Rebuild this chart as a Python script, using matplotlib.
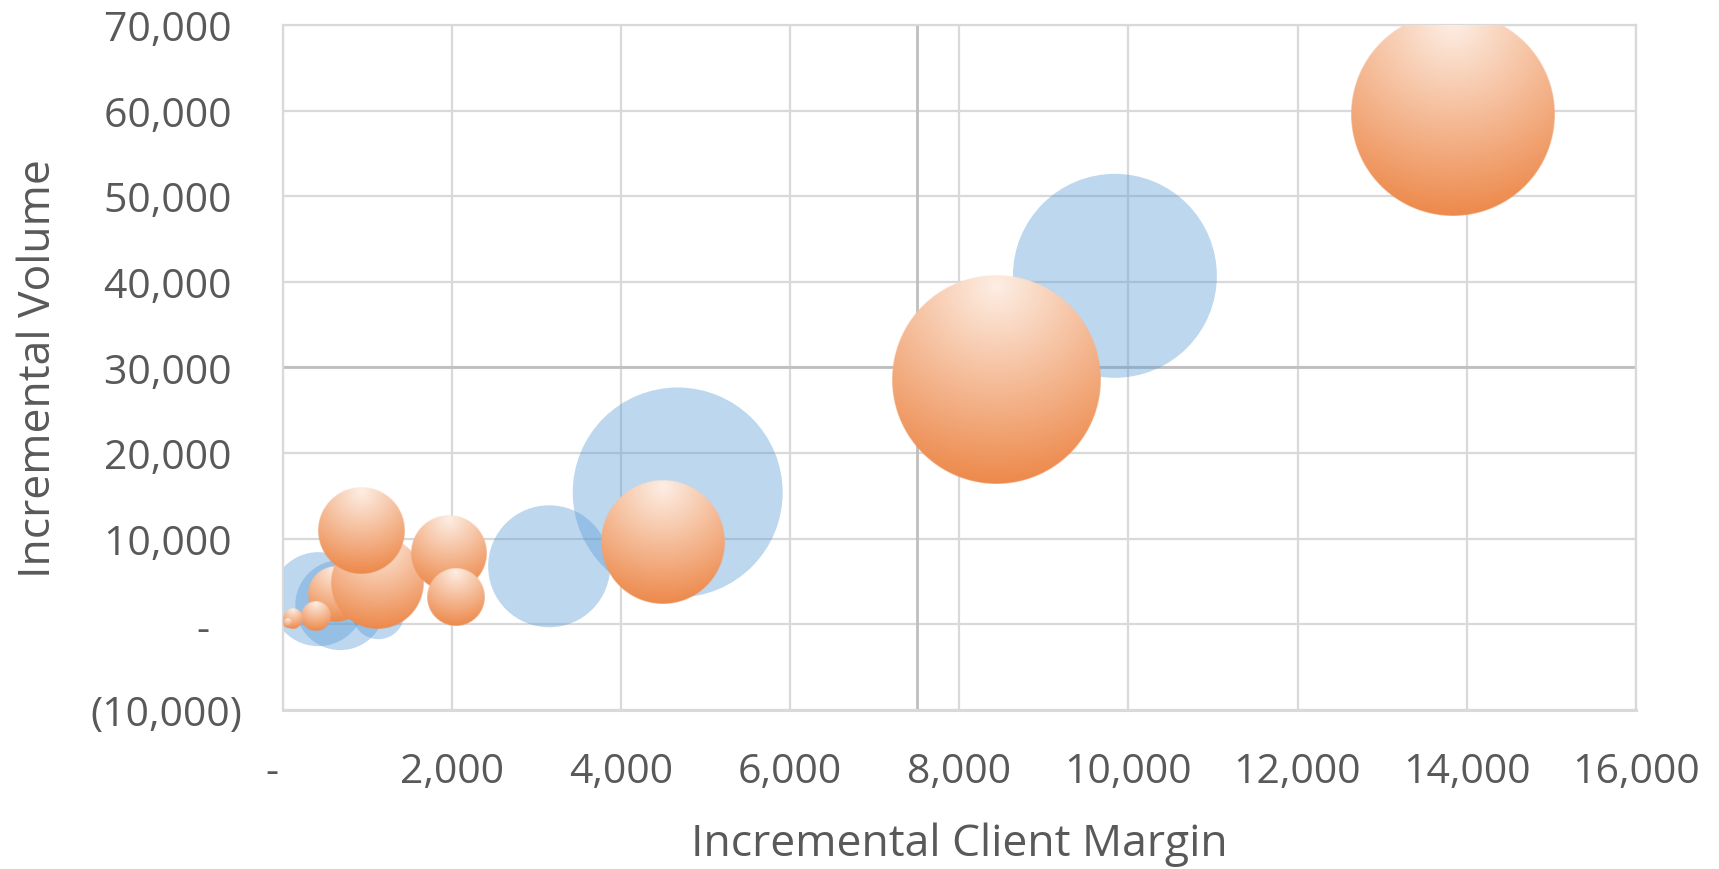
import matplotlib
matplotlib.use('Agg')
import matplotlib.pyplot as plt
import numpy as np
from matplotlib.ticker import FuncFormatter, MultipleLocator

plt.rcParams['font.family'] = ['Open Sans', 'DejaVu Sans']

DPI = 100

# Series 1 - flat blue bubbles
blue_margin = [420, 680, 1130, 3150, 4670, 9840]
blue_volume = [2940, 2240, 1310, 6780, 15400, 40700]
blue_size = [221, 202, 68, 372, 1102, 1040]

# Series 2 - shaded orange bubbles
orange_margin = [630, 390, 117, 58, 1120, 925, 1970, 2050, 4490, 8440, 13840]
orange_volume = [3530, 990, 610, 140, 4810, 10890, 8340, 3200, 9570, 28600, 59600]
orange_size = [78, 22, 10, 2.5, 212, 185, 144, 84, 384, 1092, 1034]

# axis crossing point (quadrant lines)
cross_margin = 7500
cross_volume = 30000

text_color = '#595959'
grid_color = '#D9D9D9'


def radius_px(size):
    # bubble area proportional to size
    return np.sqrt(np.asarray(size, dtype=float) * 10.0)


def acct(v, pos):
    if v == 0:
        return '-   '
    if v < 0:
        return f'({abs(v):,.0f})'
    return f'{v:,.0f} '


def acct_x(v, pos):
    if v == 0:
        return '-  '
    return f'{v:,.0f}'


def shaded_disc(r):
    # radial gradient with its light focus near the top of the disc
    n = max(int(4 * r), 16)
    u = np.linspace(-1, 1, n)
    uu, vv = np.meshgrid(u, -u)
    d = np.hypot(uu, vv - 0.9) / 1.9
    light = np.array([253, 238, 228]) / 255
    dark = np.array([237, 137, 75]) / 255
    rgba = np.empty((n, n, 4))
    rgba[..., :3] = light + (dark - light) * np.clip(d, 0, 1)[..., None]
    rho = np.hypot(uu, vv)
    rgba[..., 3] = np.clip((1 - rho) * r + 0.5, 0, 1)
    return rgba


fig = plt.figure(figsize=(17.19, 8.70), dpi=DPI)
ax = fig.add_axes([0.1645, 0.1828, 0.7871, 0.7874])

ax.set_xlim(0, 16000)
ax.set_ylim(-10000, 70000)
ax.xaxis.set_major_locator(MultipleLocator(2000))
ax.yaxis.set_major_locator(MultipleLocator(10000))
ax.xaxis.set_major_formatter(FuncFormatter(acct_x))
ax.yaxis.set_major_formatter(FuncFormatter(acct))

ax.grid(True, color=grid_color, linewidth=1.6, zorder=0)
ax.set_axisbelow(True)
for side in ['left', 'right', 'top', 'bottom']:
    ax.spines[side].set_color(grid_color)
    ax.spines[side].set_linewidth(1.6)
ax.spines['bottom'].set_linewidth(2.2)

ax.axvline(cross_margin, color='#BFBFBF', linewidth=2.0, zorder=1)
ax.axhline(cross_volume, color='#BFBFBF', linewidth=2.0, zorder=1)

ax.tick_params(length=0, labelsize=29.5, labelcolor=text_color)
ax.tick_params(axis='y', pad=29)
ax.tick_params(axis='x', pad=30)

# blue series: flat, semi transparent
r_blue = radius_px(blue_size) * 72.0 / DPI
ax.scatter(blue_margin, blue_volume, s=(2 * r_blue) ** 2, color='#5B9BD5',
           alpha=0.4, linewidths=0, zorder=2)

# orange series: shaded discs, sized in pixels and placed through the data transform
to_data = ax.transData.inverted()
for x, y, size in zip(orange_margin, orange_volume, orange_size):
    r = float(radius_px(size))
    cx, cy = ax.transData.transform((x, y))
    (x0, y0), (x1, y1) = to_data.transform([(cx - r, cy - r), (cx + r, cy + r)])
    ax.imshow(shaded_disc(r), extent=(x0, x1, y0, y1), origin='upper',
              interpolation='antialiased', aspect='auto', zorder=3)

ax.set_xlim(0, 16000)
ax.set_ylim(-10000, 70000)

ax.set_xlabel('Incremental Client Margin', fontsize=32, color=text_color,
              va='baseline')
ax.xaxis.set_label_coords(0.5, -0.2117)
ax.set_ylabel('Incremental Volume', fontsize=32, color=text_color,
              rotation=90, rotation_mode='anchor', ha='center', va='baseline')
ax.yaxis.set_label_coords(-0.172, 0.5)

fig.savefig('out.png', dpi=DPI)
